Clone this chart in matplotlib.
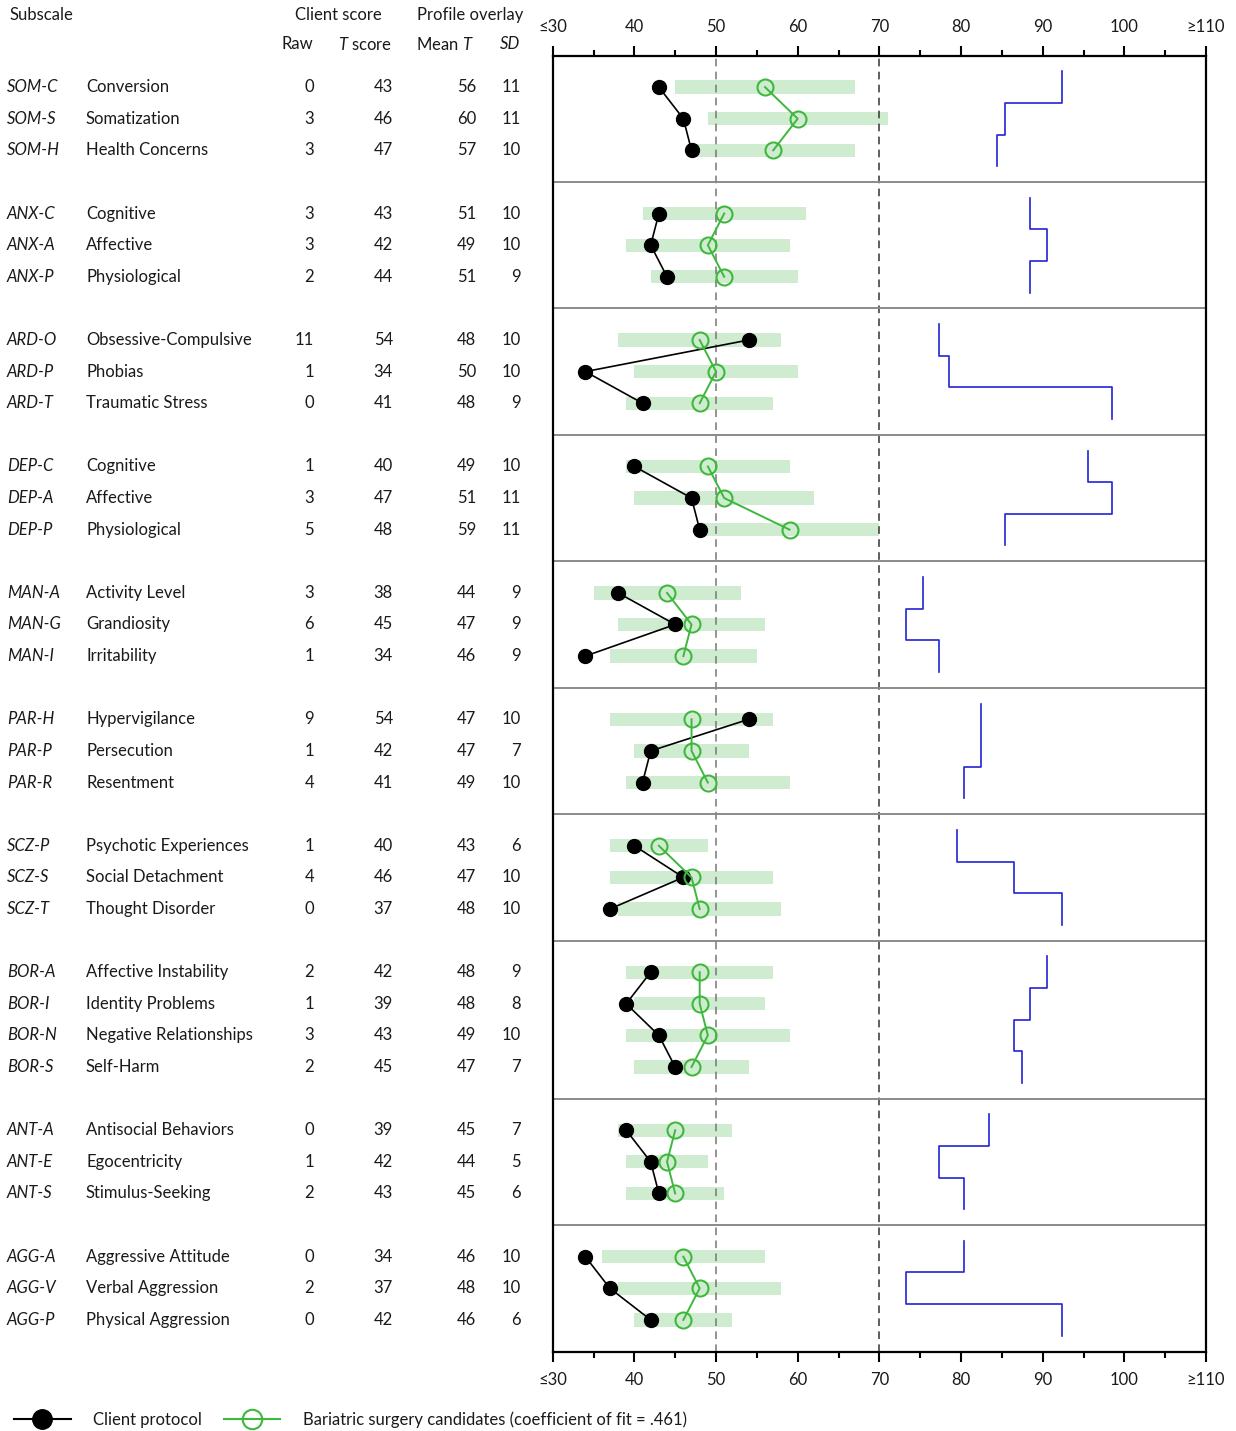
import matplotlib.pyplot as plt
from matplotlib.lines import Line2D
from matplotlib.transforms import blended_transform_factory

plt.rcParams['font.family'] = ['Lato', 'DejaVu Sans']
plt.rcParams['mathtext.fontset'] = 'custom'
plt.rcParams['mathtext.rm'] = 'Lato'
plt.rcParams['mathtext.it'] = 'Lato:italic'

# scale groups (rows per group)
group_sizes = [3, 3, 3, 3, 3, 3, 3, 4, 3, 3]

codes = ['SOM-C', 'SOM-S', 'SOM-H',
         'ANX-C', 'ANX-A', 'ANX-P',
         'ARD-O', 'ARD-P', 'ARD-T',
         'DEP-C', 'DEP-A', 'DEP-P',
         'MAN-A', 'MAN-G', 'MAN-I',
         'PAR-H', 'PAR-P', 'PAR-R',
         'SCZ-P', 'SCZ-S', 'SCZ-T',
         'BOR-A', 'BOR-I', 'BOR-N', 'BOR-S',
         'ANT-A', 'ANT-E', 'ANT-S',
         'AGG-A', 'AGG-V', 'AGG-P']
names = ['Conversion', 'Somatization', 'Health Concerns',
         'Cognitive', 'Affective', 'Physiological',
         'Obsessive-Compulsive', 'Phobias', 'Traumatic Stress',
         'Cognitive', 'Affective', 'Physiological',
         'Activity Level', 'Grandiosity', 'Irritability',
         'Hypervigilance', 'Persecution', 'Resentment',
         'Psychotic Experiences', 'Social Detachment', 'Thought Disorder',
         'Affective Instability', 'Identity Problems', 'Negative Relationships', 'Self-Harm',
         'Antisocial Behaviors', 'Egocentricity', 'Stimulus-Seeking',
         'Aggressive Attitude', 'Verbal Aggression', 'Physical Aggression']
raw = [0, 3, 3, 3, 3, 2, 11, 1, 0, 1, 3, 5, 3, 6, 1, 9, 1, 4,
       1, 4, 0, 2, 1, 3, 2, 0, 1, 2, 0, 2, 0]
t_score = [43, 46, 47, 43, 42, 44, 54, 34, 41, 40, 47, 48, 38, 45, 34, 54, 42, 41,
           40, 46, 37, 42, 39, 43, 45, 39, 42, 43, 34, 37, 42]
mean_t = [56, 60, 57, 51, 49, 51, 48, 50, 48, 49, 51, 59, 44, 47, 46, 47, 47, 49,
          43, 47, 48, 48, 48, 49, 47, 45, 44, 45, 46, 48, 46]
sd = [11, 11, 10, 10, 10, 9, 10, 10, 9, 10, 11, 11, 9, 9, 9, 10, 7, 10,
      6, 10, 10, 9, 8, 10, 7, 7, 5, 6, 10, 10, 6]
# blue step profile on the right
step_vals = [92.4, 85.4, 84.4, 88.4, 90.5, 88.4, 77.3, 78.5, 98.5,
             95.5, 98.5, 85.4, 75.4, 73.3, 77.3, 82.5, 82.5, 80.4,
             79.5, 86.5, 92.4, 90.5, 88.4, 86.5, 87.5, 83.4, 77.3, 80.4,
             80.4, 73.3, 92.4]

W, H = 1236, 1431
GREEN = '#3db83d'
TXT = '#1a1a1a'
FS = 12

fig = plt.figure(figsize=(W / 100, H / 100), dpi=100)
bg = fig.add_axes([0, 0, 1, 1])
bg.set_xlim(0, W)
bg.set_ylim(H, 0)
bg.axis('off')

n_units = sum(n + 1 for n in group_sizes)
ax = fig.add_axes([552.7 / W, 1 - 1351.5 / H, (1206 - 552.7) / W, (1351.5 - 55.5) / H])
ax.set_xlim(30, 110)
ax.set_ylim(n_units, 0)

ypos = []
bounds = []
start = 0
for n in group_sizes:
    ypos += [start + k + 1 for k in range(n)]
    start += n + 1
    bounds.append(start)

# SD bands
ax.barh(ypos, [2 * s for s in sd], left=[m - s for m, s in zip(mean_t, sd)],
        height=0.42, color='#d0ecd0', zorder=1)
ax.axvline(50, color='#777777', lw=1.1, ls=(0, (5, 3.5)), zorder=2)
ax.axvline(70, color='#333333', lw=1.1, ls=(0, (5, 3.5)), zorder=2)
for b in bounds[:-1]:
    ax.axhline(b, color='#8a8a8a', lw=1.4, zorder=2)

i0 = 0
for n in group_sizes:
    sl = slice(i0, i0 + n)
    ys = ypos[sl]
    ax.plot(t_score[sl], ys, '-o', color='black', ms=10, lw=1.2, zorder=3)
    ax.plot(mean_t[sl], ys, '-o', color=GREEN, mfc='none', mec=GREEN, mew=1.5,
            ms=11.5, lw=1.4, zorder=4)
    sx, sy = [], []
    for v, y in zip(step_vals[sl], ys):
        sx += [v, v]
        sy += [y - 0.5, y + 0.5]
    ax.plot(sx, sy, color='#2222d6', lw=1.2, zorder=4)
    i0 += n

ax.set_yticks([])
ax.set_xticks(range(30, 111, 10))
ax.set_xticklabels(['\u226430', '40', '50', '60', '70', '80', '90', '100', '\u2265110'])
ax.set_xticks(range(35, 110, 10), minor=True)
ax.tick_params(axis='x', which='both', top=True, labeltop=True, bottom=True,
               labelbottom=True, direction='out', width=1.5, colors='black',
               labelcolor=TXT, labelsize=FS)
ax.tick_params(axis='x', which='major', length=7, pad=8)
ax.tick_params(axis='x', which='minor', length=4)
for s in ax.spines.values():
    s.set_linewidth(1.6)
    s.set_color('black')

# table on the left
tr = blended_transform_factory(bg.transData, ax.transData)
for k, y in enumerate(ypos):
    bg.text(7, y, codes[k], transform=tr, va='center', ha='left', style='italic', fontsize=FS, color=TXT)
    bg.text(86, y, names[k], transform=tr, va='center', ha='left', fontsize=FS, color=TXT)
    bg.text(314, y, str(raw[k]), transform=tr, va='center', ha='right', fontsize=FS, color=TXT)
    bg.text(393, y, str(t_score[k]), transform=tr, va='center', ha='right', fontsize=FS, color=TXT)
    bg.text(476, y, str(mean_t[k]), transform=tr, va='center', ha='right', fontsize=FS, color=TXT)
    bg.text(521, y, str(sd[k]), transform=tr, va='center', ha='right', fontsize=FS, color=TXT)

bg.text(10, 15, 'Subscale', va='center', ha='left', fontsize=FS, color=TXT)
bg.text(338, 15, 'Client score', va='center', ha='center', fontsize=FS, color=TXT)
bg.text(470, 15, 'Profile overlay', va='center', ha='center', fontsize=FS, color=TXT)
bg.text(313, 44, 'Raw', va='center', ha='right', fontsize=FS, color=TXT)
bg.text(392, 44, r'$\mathit{T}$ score', va='center', ha='right', fontsize=FS, color=TXT)
bg.text(474, 44, r'Mean $\mathit{T}$', va='center', ha='right', fontsize=FS, color=TXT)
bg.text(520, 44, 'SD', va='center', ha='right', style='italic', fontsize=FS, color=TXT)

handles = [Line2D([], [], color='black', lw=1.5, marker='o', ms=14),
           Line2D([], [], color=GREEN, lw=1.5, marker='o', ms=14, mfc='none', mew=1.5)]
fig.legend(handles, ['Client protocol', 'Bariatric surgery candidates (coefficient of fit = .461)'],
           loc='center left', bbox_to_anchor=(14 / W, 1 - 1420 / H), ncol=2, frameon=False,
           fontsize=FS, handlelength=3.4, handletextpad=1.35, columnspacing=1.3,
           borderpad=0, borderaxespad=0, labelcolor=TXT)

fig.savefig('out.png', dpi=100)
